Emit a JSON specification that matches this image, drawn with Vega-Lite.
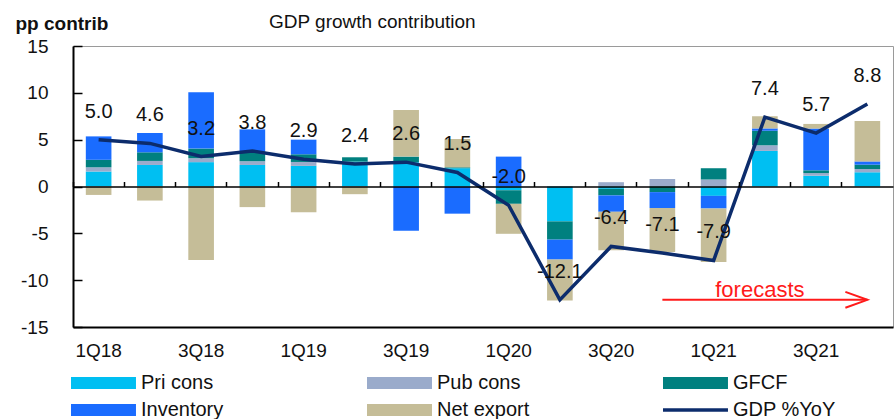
{
  "$schema": "https://vega.github.io/schema/vega-lite/v6.json",
  "width": 820,
  "height": 281,
  "autosize": {"type": "none"},
  "padding": {"left": 73, "top": 46, "right": 3, "bottom": 92},
  "background": "white",
  "config": {"font": "Liberation Sans", "view": {"stroke": "#9a9a9a", "strokeWidth": 1}},
  "title": {"text": "GDP growth contribution", "anchor": "start", "frame": "group", "dx": 196, "dy": 31, "offset": 13, "fontSize": 19, "fontWeight": "normal", "color": "#111111", "font": "Liberation Sans"},
  "datasets": {
    "comp": [
      {"q": "1Q18", "component": "Pri cons", "value": 1.6}, {"q": "1Q18", "component": "Pub cons", "value": 0.45}, {"q": "1Q18", "component": "GFCF", "value": 0.8}, {"q": "1Q18", "component": "Inventory", "value": 2.5}, {"q": "1Q18", "component": "Net export", "value": -0.9},
      {"q": "2Q18", "component": "Pri cons", "value": 2.3}, {"q": "2Q18", "component": "Pub cons", "value": 0.43}, {"q": "2Q18", "component": "GFCF", "value": 0.92}, {"q": "2Q18", "component": "Inventory", "value": 2.06}, {"q": "2Q18", "component": "Net export", "value": -1.5},
      {"q": "3Q18", "component": "Pri cons", "value": 2.6}, {"q": "3Q18", "component": "Pub cons", "value": 0.42}, {"q": "3Q18", "component": "GFCF", "value": 1.03}, {"q": "3Q18", "component": "Inventory", "value": 6.0}, {"q": "3Q18", "component": "Net export", "value": -7.85},
      {"q": "4Q18", "component": "Pri cons", "value": 2.3}, {"q": "4Q18", "component": "Pub cons", "value": 0.4}, {"q": "4Q18", "component": "GFCF", "value": 1.06}, {"q": "4Q18", "component": "Inventory", "value": 2.34}, {"q": "4Q18", "component": "Net export", "value": -2.2},
      {"q": "1Q19", "component": "Pri cons", "value": 2.2}, {"q": "1Q19", "component": "Pub cons", "value": 0.42}, {"q": "1Q19", "component": "GFCF", "value": 0.82}, {"q": "1Q19", "component": "Inventory", "value": 1.56}, {"q": "1Q19", "component": "Net export", "value": -2.75},
      {"q": "2Q19", "component": "Pri cons", "value": 2.66}, {"q": "2Q19", "component": "GFCF", "value": 0.46}, {"q": "2Q19", "component": "Net export", "value": -0.82},
      {"q": "3Q19", "component": "Pri cons", "value": 2.59}, {"q": "3Q19", "component": "GFCF", "value": 0.6}, {"q": "3Q19", "component": "Inventory", "value": -4.72}, {"q": "3Q19", "component": "Net export", "value": 4.97},
      {"q": "4Q19", "component": "Pri cons", "value": 1.95}, {"q": "4Q19", "component": "GFCF", "value": 0.1}, {"q": "4Q19", "component": "Inventory", "value": -2.9}, {"q": "4Q19", "component": "Net export", "value": 3.02},
      {"q": "1Q20", "component": "Pri cons", "value": -0.4}, {"q": "1Q20", "component": "GFCF", "value": -1.45}, {"q": "1Q20", "component": "Inventory", "value": 3.19}, {"q": "1Q20", "component": "Net export", "value": -3.2},
      {"q": "2Q20", "component": "Pri cons", "value": -3.72}, {"q": "2Q20", "component": "GFCF", "value": -1.95}, {"q": "2Q20", "component": "Inventory", "value": -2.13}, {"q": "2Q20", "component": "Net export", "value": -4.36},
      {"q": "3Q20", "component": "Pri cons", "value": -0.25}, {"q": "3Q20", "component": "Pub cons", "value": 0.46}, {"q": "3Q20", "component": "GFCF", "value": -0.7}, {"q": "3Q20", "component": "Inventory", "value": -1.75}, {"q": "3Q20", "component": "Net export", "value": -4.1},
      {"q": "4Q20", "component": "Pub cons", "value": 0.8}, {"q": "4Q20", "component": "GFCF", "value": -0.6}, {"q": "4Q20", "component": "Inventory", "value": -1.7}, {"q": "4Q20", "component": "Net export", "value": -4.7},
      {"q": "1Q21", "component": "Pri cons", "value": -1.0}, {"q": "1Q21", "component": "Pub cons", "value": 0.75}, {"q": "1Q21", "component": "GFCF", "value": 1.2}, {"q": "1Q21", "component": "Inventory", "value": -1.35}, {"q": "1Q21", "component": "Net export", "value": -5.7},
      {"q": "2Q21", "component": "Pri cons", "value": 3.8}, {"q": "2Q21", "component": "Pub cons", "value": 0.6}, {"q": "2Q21", "component": "GFCF", "value": 1.55}, {"q": "2Q21", "component": "Inventory", "value": 0.25}, {"q": "2Q21", "component": "Net export", "value": 1.3},
      {"q": "3Q21", "component": "Pri cons", "value": 1.15}, {"q": "3Q21", "component": "Pub cons", "value": 0.28}, {"q": "3Q21", "component": "GFCF", "value": 0.3}, {"q": "3Q21", "component": "Inventory", "value": 4.45}, {"q": "3Q21", "component": "Net export", "value": 0.5},
      {"q": "4Q21", "component": "Pri cons", "value": 1.52}, {"q": "4Q21", "component": "Pub cons", "value": 0.35}, {"q": "4Q21", "component": "GFCF", "value": 0.46}, {"q": "4Q21", "component": "Inventory", "value": 0.35}, {"q": "4Q21", "component": "Net export", "value": 4.3}
    ],
    "gdp": [
      {"q": "1Q18", "gdp": 5.0, "lbl": "5.0"}, {"q": "2Q18", "gdp": 4.6, "lbl": "4.6"}, {"q": "3Q18", "gdp": 3.2, "lbl": "3.2"}, {"q": "4Q18", "gdp": 3.8, "lbl": "3.8"},
      {"q": "1Q19", "gdp": 2.9, "lbl": "2.9"}, {"q": "2Q19", "gdp": 2.4, "lbl": "2.4"}, {"q": "3Q19", "gdp": 2.6, "lbl": "2.6"}, {"q": "4Q19", "gdp": 1.5, "lbl": "1.5"},
      {"q": "1Q20", "gdp": -2.0, "lbl": "-2.0"}, {"q": "2Q20", "gdp": -12.1, "lbl": "-12.1"}, {"q": "3Q20", "gdp": -6.4, "lbl": "-6.4"}, {"q": "4Q20", "gdp": -7.1, "lbl": "-7.1"},
      {"q": "1Q21", "gdp": -7.9, "lbl": "-7.9"}, {"q": "2Q21", "gdp": 7.4, "lbl": "7.4"}, {"q": "3Q21", "gdp": 5.7, "lbl": "5.7"}, {"q": "4Q21", "gdp": 8.8, "lbl": "8.8"}
    ],
    "annot": [
      {"from": "4Q20", "to": "4Q21", "v": -12.1, "tq": "2Q21", "tv": -11.8, "label": "forecasts"}
    ]
  },
  "layer": [
    {
      "data": {"name": "comp"},
      "transform": [
        {"calculate": "indexof(['Pri cons', 'Pub cons', 'GFCF', 'Inventory', 'Net export'], datum.component)", "as": "stackOrder"}
      ],
      "mark": {"type": "bar", "width": {"band": 0.5}},
      "encoding": {
        "x": {
          "field": "q", "type": "nominal",
          "scale": {"domain": ["1Q18","2Q18","3Q18","4Q18","1Q19","2Q19","3Q19","4Q19","1Q20","2Q20","3Q20","4Q20","1Q21","2Q21","3Q21","4Q21"], "paddingInner": 0, "paddingOuter": 0},
          "axis": {"orient": "bottom", "values": ["1Q18","3Q18","1Q19","3Q19","1Q20","3Q20","1Q21","3Q21"], "ticks": false, "domainColor": "#000000", "domainWidth": 2, "labelAngle": 0, "labelFontSize": 19, "labelColor": "#111111", "labelPadding": 14, "title": null, "grid": false}
        },
        "y": {
          "field": "value", "type": "quantitative", "stack": "zero",
          "scale": {"domain": [-15, 15], "nice": false, "zero": false},
          "axis": {"values": [-15, -10, -5, 0, 5, 10, 15], "labelExpr": "'' + datum.value", "tickSize": -9, "tickColor": "#000000", "tickWidth": 1.5, "domainColor": "#000000", "domainWidth": 2, "labelFontSize": 19, "labelColor": "#111111", "labelPadding": 34, "grid": false,
                   "title": "pp contrib", "titleAngle": 0, "titleX": -58, "titleY": -17, "titleAlign": "left", "titleBaseline": "alphabetic", "titleFontSize": 19, "titleFontWeight": "bold", "titleColor": "#111111"}
        },
        "order": {"field": "stackOrder", "type": "quantitative", "sort": "ascending"},
        "color": {
          "field": "component", "type": "nominal",
          "scale": {"domain": ["Pri cons", "Pub cons", "GFCF", "Inventory", "Net export", "GDP %YoY"], "range": ["#00bff2", "#9aabcb", "#00807f", "#1a6cff", "#c5bd98", "#0c2c6c"]},
          "legend": {
            "orient": "none", "legendX": -6, "legendY": 327, "direction": "horizontal", "columns": 3, "title": null,
            "symbolSize": 144, "symbolType": "M-1,-1H9.83V1H-1Z", "labelOffset": 54, "labelFontSize": 20, "labelFont": "Liberation Sans", "labelColor": "#111111",
            "columnPadding": 116, "rowPadding": 7, "gridAlign": "all", "padding": 0, "labelLimit": 200,
            "encode": {"symbols": {"update": {
              "shape": {"signal": "datum.value === 'GDP %YoY' ? 'M-1,0H9.83' : 'M-1,-1H9.83V1H-1Z'"},
              "fill": {"signal": "datum.value === 'GDP %YoY' ? 'transparent' : scale('color', datum.value)"},
              "stroke": {"signal": "scale('color', datum.value)"},
              "strokeWidth": {"signal": "datum.value === 'GDP %YoY' ? 3.5 : 0"},
              "opacity": {"value": 1}, "fillOpacity": {"value": 1}, "strokeOpacity": {"value": 1}
            }}}
          }
        }
      }
    },
    {
      "data": {"name": "gdp"},
      "mark": {"type": "line", "strokeWidth": 3.5},
      "encoding": {
        "x": {"field": "q", "type": "nominal",
              "axis": {"orient": "bottom", "offset": -140.5, "labels": false, "ticks": true, "tickSize": -5, "tickColor": "#000000", "tickWidth": 1.5, "domainColor": "#000000", "domainWidth": 1.5, "bandPosition": 0, "zindex": 1, "title": null, "grid": false}},
        "y": {"field": "gdp", "type": "quantitative"},
        "color": {"datum": "GDP %YoY"}
      }
    },
    {
      "data": {"name": "gdp"},
      "mark": {"type": "text", "dy": -28, "fontSize": 20, "color": "#111111", "font": "Liberation Sans"},
      "encoding": {
        "x": {"field": "q", "type": "nominal", "axis": null},
        "y": {"field": "gdp", "type": "quantitative"},
        "text": {"field": "lbl"}
      }
    },
    {
      "data": {"name": "annot"},
      "mark": {"type": "rule", "color": "#ff1a1a", "strokeWidth": 2},
      "encoding": {
        "x": {"field": "from", "type": "nominal", "axis": null},
        "x2": {"field": "to"},
        "y": {"field": "v", "type": "quantitative"}
      }
    },
    {
      "data": {"name": "annot"},
      "mark": {"type": "point", "shape": "M-1,-0.36L0,0L-1,0.36", "filled": false, "size": 1936, "strokeWidth": 2, "color": "#ff1a1a", "opacity": 1},
      "encoding": {
        "x": {"field": "to", "type": "nominal", "axis": null},
        "y": {"field": "v", "type": "quantitative"}
      }
    },
    {
      "data": {"name": "annot"},
      "mark": {"type": "text", "fontSize": 22, "color": "#ff1a1a", "baseline": "alphabetic", "dx": -5, "font": "Liberation Sans"},
      "encoding": {
        "x": {"field": "tq", "type": "nominal", "axis": null},
        "y": {"field": "tv", "type": "quantitative"},
        "text": {"field": "label"}
      }
    }
  ],
  "resolve": {"axis": {"x": "independent"}}
}
